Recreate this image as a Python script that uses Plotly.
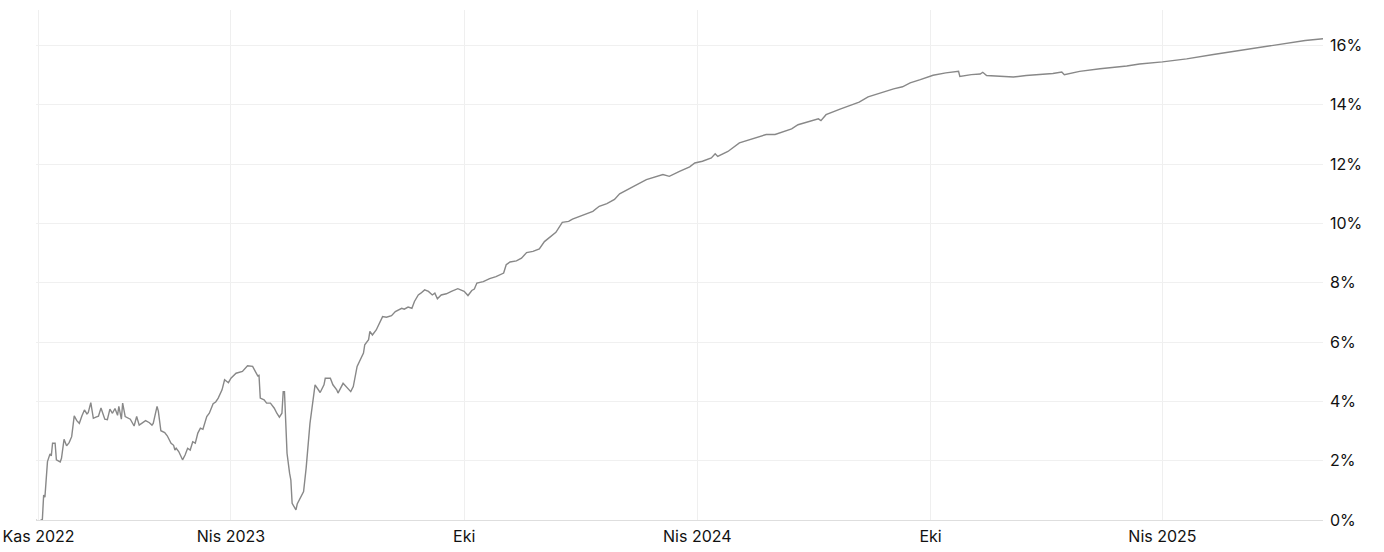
import plotly.graph_objects as go

dates = [
    "2022-10-30", "2022-11-01", "2022-11-04", "2022-11-05", "2022-11-06", "2022-11-08", "2022-11-10",
    "2022-11-11", "2022-11-12", "2022-11-14", "2022-11-15", "2022-11-18", "2022-11-19", "2022-11-21",
    "2022-11-23", "2022-11-25", "2022-11-27", "2022-11-29", "2022-12-01", "2022-12-03", "2022-12-05",
    "2022-12-07", "2022-12-09", "2022-12-10", "2022-12-12", "2022-12-14", "2022-12-16", "2022-12-18",
    "2022-12-20", "2022-12-23", "2022-12-25", "2022-12-27", "2022-12-29", "2022-12-31", "2023-01-02",
    "2023-01-03", "2023-01-05", "2023-01-06", "2023-01-08", "2023-01-12", "2023-01-15", "2023-01-17",
    "2023-01-19", "2023-01-24", "2023-01-27", "2023-01-29", "2023-01-30", "2023-02-02", "2023-02-03",
    "2023-02-05", "2023-02-08", "2023-02-10", "2023-02-13", "2023-02-15", "2023-02-16", "2023-02-17",
    "2023-02-19", "2023-02-22", "2023-02-24", "2023-02-26", "2023-02-28", "2023-03-02", "2023-03-04",
    "2023-03-06", "2023-03-08", "2023-03-10", "2023-03-13", "2023-03-15", "2023-03-18", "2023-03-20",
    "2023-03-22", "2023-03-25", "2023-03-27", "2023-03-30", "2023-04-01", "2023-04-05", "2023-04-10",
    "2023-04-14", "2023-04-18", "2023-04-20", "2023-04-22", "2023-04-23", "2023-04-24", "2023-04-27",
    "2023-04-29", "2023-05-02", "2023-05-05", "2023-05-07", "2023-05-09", "2023-05-11", "2023-05-12",
    "2023-05-13", "2023-05-15", "2023-05-17", "2023-05-18", "2023-05-19", "2023-05-22", "2023-05-23",
    "2023-05-25", "2023-05-28", "2023-05-30", "2023-06-02", "2023-06-06", "2023-06-10", "2023-06-13",
    "2023-06-14", "2023-06-18", "2023-06-20", "2023-06-23", "2023-06-24", "2023-06-28", "2023-07-01",
    "2023-07-04", "2023-07-06", "2023-07-09", "2023-07-14", "2023-07-15", "2023-07-18", "2023-07-19",
    "2023-07-21", "2023-07-24", "2023-07-29", "2023-08-01", "2023-08-05", "2023-08-08", "2023-08-13",
    "2023-08-15", "2023-08-18", "2023-08-21", "2023-08-23", "2023-08-26", "2023-08-28", "2023-08-31",
    "2023-09-03", "2023-09-06", "2023-09-08", "2023-09-10", "2023-09-13", "2023-09-17", "2023-09-21",
    "2023-09-26", "2023-10-01", "2023-10-04", "2023-10-07", "2023-10-09", "2023-10-11", "2023-10-16",
    "2023-10-21", "2023-10-26", "2023-11-01", "2023-11-03", "2023-11-06", "2023-11-11", "2023-11-15",
    "2023-11-19", "2023-11-24", "2023-11-29", "2023-12-03", "2023-12-07", "2023-12-12", "2023-12-17",
    "2023-12-22", "2023-12-25", "2023-12-31", "2024-01-05", "2024-01-10", "2024-01-15", "2024-01-21",
    "2024-01-27", "2024-01-31", "2024-02-11", "2024-02-21", "2024-03-05", "2024-03-10", "2024-03-18",
    "2024-03-26", "2024-03-30", "2024-04-05", "2024-04-12", "2024-04-15", "2024-04-17", "2024-04-25",
    "2024-05-04", "2024-05-15", "2024-05-25", "2024-06-01", "2024-06-14", "2024-06-19", "2024-07-02",
    "2024-07-05", "2024-07-07", "2024-07-11", "2024-07-22", "2024-08-06", "2024-08-13", "2024-08-22",
    "2024-09-02", "2024-09-09", "2024-09-15", "2024-09-23", "2024-09-28", "2024-10-03", "2024-10-13",
    "2024-10-23", "2024-10-24", "2024-11-02", "2024-11-09", "2024-11-11", "2024-11-14", "2024-11-24",
    "2024-12-05", "2024-12-15", "2024-12-26", "2025-01-05", "2025-01-12", "2025-01-14", "2025-01-26",
    "2025-02-11", "2025-03-04", "2025-03-14", "2025-04-01", "2025-04-20", "2025-05-11", "2025-06-01",
    "2025-06-22", "2025-07-12", "2025-07-22", "2025-08-05",
]

returns_pct = [
    0.00, -0.05, 0.02, 0.84, 0.77, 1.97, 2.23,
    2.16, 2.59, 2.59, 2.03, 1.96, 2.08, 2.72,
    2.50, 2.61, 2.81, 3.51, 3.35, 3.26, 3.51,
    3.71, 3.58, 3.62, 3.96, 3.43, 3.47, 3.50,
    3.78, 3.40, 3.38, 3.74, 3.60, 3.76, 3.53,
    3.83, 3.40, 3.94, 3.49, 3.40, 3.17, 3.49,
    3.20, 3.35, 3.28, 3.20, 3.26, 3.83, 3.67,
    3.01, 2.95, 2.84, 2.59, 2.52, 2.36, 2.42,
    2.31, 2.03, 2.19, 2.42, 2.36, 2.64, 2.59,
    2.93, 3.10, 3.06, 3.49, 3.60, 3.92, 3.98,
    4.11, 4.39, 4.73, 4.63, 4.78, 4.95, 5.01,
    5.20, 5.18, 5.01, 4.86, 4.88, 4.11, 4.05,
    3.94, 3.94, 3.77, 3.60, 3.47, 3.60, 4.33,
    4.33, 2.25, 1.58, 1.35, 0.56, 0.34, 0.54,
    0.70, 0.96, 1.75, 3.26, 4.56, 4.30, 4.56,
    4.78, 4.78, 4.56, 4.39, 4.28, 4.61, 4.48,
    4.33, 4.50, 5.18, 5.63, 5.91, 6.08, 6.36,
    6.24, 6.41, 6.86, 6.84, 6.89, 7.03, 7.14,
    7.11, 7.18, 7.14, 7.37, 7.59, 7.65, 7.76,
    7.71, 7.59, 7.65, 7.46, 7.59, 7.63, 7.71,
    7.80, 7.71, 7.57, 7.74, 7.79, 7.99, 8.04,
    8.14, 8.21, 8.33, 8.61, 8.70, 8.74, 8.83,
    9.02, 9.06, 9.14, 9.39, 9.54, 9.70, 10.04,
    10.07, 10.15, 10.24, 10.32, 10.41, 10.58, 10.67,
    10.81, 11.00, 11.25, 11.48, 11.65, 11.59, 11.76,
    11.91, 12.04, 12.10, 12.21, 12.35, 12.26, 12.43,
    12.72, 12.88, 13.00, 13.00, 13.19, 13.33, 13.48,
    13.53, 13.47, 13.67, 13.86, 14.09, 14.27, 14.40,
    14.54, 14.61, 14.74, 14.85, 14.93, 15.00, 15.08,
    15.13, 14.96, 15.02, 15.04, 15.10, 14.99, 14.96,
    14.94, 14.99, 15.02, 15.06, 15.11, 15.02, 15.13,
    15.22, 15.31, 15.38, 15.45, 15.55, 15.70, 15.83,
    15.98, 16.09, 16.17, 16.23,
]

x_tick_dates = ["2022-11-01", "2023-04-01", "2023-10-01", "2024-04-01", "2024-10-01", "2025-04-01"]
x_tick_labels = ["Kas 2022", "Nis 2023", "Eki", "Nis 2024", "Eki", "Nis 2025"]
y_tick_values = [0, 2, 4, 6, 8, 10, 12, 14, 16]
y_tick_labels = ["0%", "2%", "4%", "6%", "8%", "10%", "12%", "14%", "16%"]

fig = go.Figure()
fig.add_trace(go.Scatter(
    x=dates,
    y=returns_pct,
    mode="lines",
    line=dict(color="#888888", width=1.4),
    showlegend=False,
    hoverinfo="skip",
))

fig.update_layout(
    width=1384,
    height=552,
    margin=dict(l=36, r=61, t=10, b=32),
    paper_bgcolor="white",
    plot_bgcolor="white",
    font=dict(family="Inter, 'Noto Sans', sans-serif", size=16, color="#111111"),
)

fig.update_xaxes(
    type="date",
    range=["2022-10-30", "2025-08-05"],
    tickvals=x_tick_dates,
    ticktext=x_tick_labels,
    showgrid=True,
    gridcolor="#efefef",
    gridwidth=1,
    showline=False,
    zeroline=False,
    ticks="",
    ticklabelstandoff=5,
    automargin=False,
    fixedrange=True,
)

fig.update_yaxes(
    side="right",
    range=[0, 17.2],
    tickvals=y_tick_values,
    ticktext=y_tick_labels,
    showgrid=True,
    gridcolor="#f0f0f0",
    gridwidth=1,
    zeroline=True,
    zerolinecolor="#dedede",
    zerolinewidth=1,
    ticks="",
    ticklabelstandoff=6,
    automargin=False,
    fixedrange=True,
)

fig.write_html(
    "out.html",
    config={"displayModeBar": False},
    post_script="document.body.style.margin='0';document.body.style.overflow='hidden';",
)
